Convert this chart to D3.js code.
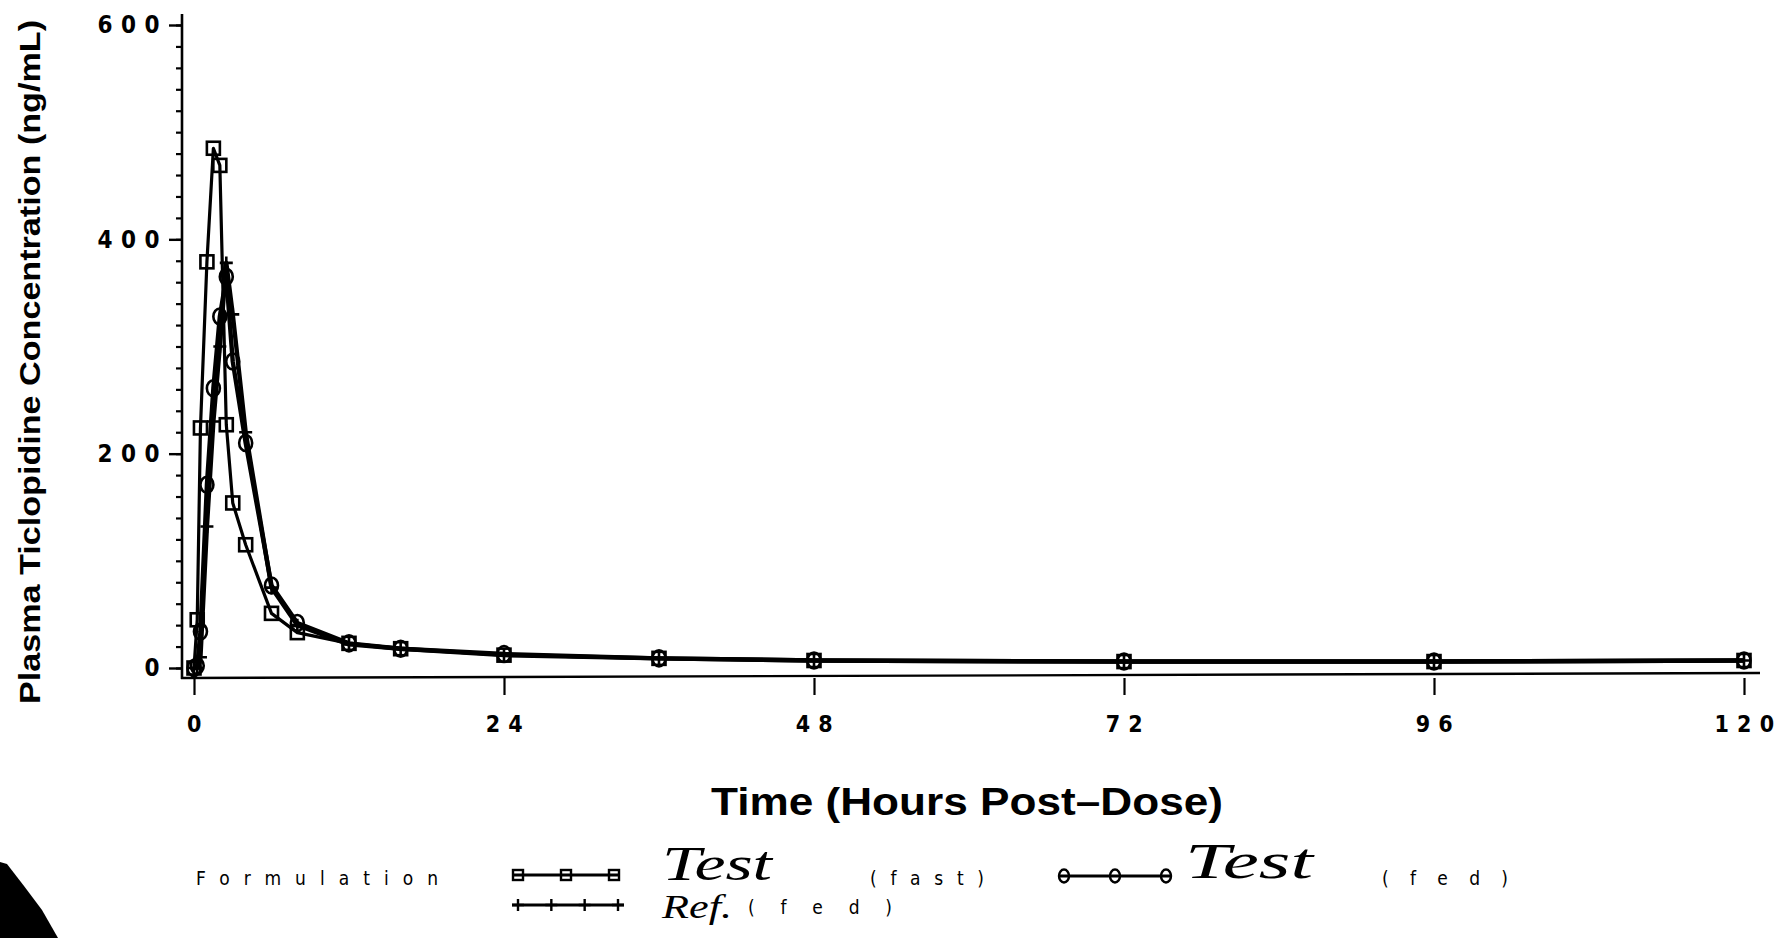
<!DOCTYPE html>
<html>
<head>
<meta charset="utf-8">
<script src="https://cdn.jsdelivr.net/npm/d3@7"></script>
<style>
  html, body { margin: 0; padding: 0; background: #fff; }
  svg { display: block; }
</style>
</head>
<body>
<svg id="chart" width="1784" height="938"></svg>
<script>
// ---------------- DATA ----------------
const times     = [0, 0.25, 0.5, 1, 1.5, 2, 2.5, 3, 4, 6, 8, 12, 16, 24, 36, 48, 72, 96, 120];
const testFast  = [0, 45, 224, 379, 485, 469, 227, 154, 115, 51, 33, 23, 18, 12, 9, 7, 6, 6, 7];
const testFed   = [0, 2, 34, 171, 261, 328, 365, 286, 210, 77, 42, 23, 18, 13, 9, 7, 6, 6, 7];
const refFed    = [0, 0, 10, 132, 230, 300, 378, 330, 220, 75, 40, 22, 18, 12, 9, 7, 6, 6, 7];
const xTicks    = [0, 24, 48, 72, 96, 120];
const yTicks    = [0, 200, 400, 600];
const yMinor    = d3.range(0, 601, 20);
const xTitle    = "Time (Hours Post\u2013Dose)";
const yTitle    = "Plasma Ticlopidine Concentration (ng/mL)";

// ---------------- LAYOUT ----------------
const svg = d3.select("#chart");
const x = d3.scaleLinear().domain([0, 120]).range([194, 1744]);
const y = d3.scaleLinear().domain([0, 600]).range([668, 25]);
const axisX = 182, axisY = 678;
const ink = "#000";
const tickFont = "'DejaVu Sans Condensed', 'DejaVu Sans', sans-serif";

// y axis line
svg.append("line").attr("x1", axisX).attr("x2", axisX).attr("y1", 14).attr("y2", axisY + 1)
  .attr("stroke", ink).attr("stroke-width", 2.6);
// x axis line (slightly tilted like the scanned original)
svg.append("line").attr("x1", axisX - 1).attr("x2", 1760).attr("y1", axisY).attr("y2", axisY - 5)
  .attr("stroke", ink).attr("stroke-width", 2.4);

// y minor ticks
const gY = svg.append("g").attr("transform", `translate(${axisX},0)`);
gY.call(d3.axisLeft(y).tickValues(yMinor).tickSize(6).tickFormat(""))
  .call(g => g.select(".domain").remove())
  .call(g => g.selectAll("line").attr("stroke", ink).attr("stroke-width", 2.2));
const gYM = svg.append("g").attr("transform", `translate(${axisX},0)`);
gYM.call(d3.axisLeft(y).tickValues(yTicks).tickSize(13).tickPadding(9)
    .tickFormat(d => String(d).split("").join(" ")))
  .call(g => g.select(".domain").remove())
  .call(g => g.selectAll("line").attr("stroke", ink).attr("stroke-width", 2.4))
  .call(g => g.selectAll("text").attr("fill", ink).attr("font-family", tickFont)
      .attr("font-size", 24).attr("font-weight", "bold").style("letter-spacing", "0.5px"));

// x ticks
const gX = svg.append("g").attr("transform", `translate(0,${axisY})`);
gX.call(d3.axisBottom(x).tickValues(xTicks).tickSize(17).tickPadding(21)
    .tickFormat(d => String(d).split("").join(" ")))
  .call(g => g.select(".domain").remove())
  .call(g => g.selectAll("line").attr("stroke", ink).attr("stroke-width", 2.2))
  .call(g => g.selectAll("text").attr("fill", ink).attr("font-family", tickFont)
      .attr("font-size", 23).attr("font-weight", "bold").style("letter-spacing", "0.5px"));

// axis titles
svg.append("text").attr("x", 967).attr("y", 815).attr("text-anchor", "middle")
  .attr("font-family", "'Liberation Sans', Arial, sans-serif").attr("font-weight", "bold")
  .attr("font-size", 39).attr("textLength", 512).attr("lengthAdjust", "spacingAndGlyphs")
  .text(xTitle);
svg.append("text").attr("transform", "translate(40,362) rotate(-90)").attr("text-anchor", "middle")
  .attr("font-family", "'Liberation Sans', Arial, sans-serif").attr("font-weight", "bold")
  .attr("font-size", 30).attr("textLength", 684).attr("lengthAdjust", "spacingAndGlyphs")
  .text(yTitle);

// ---------------- SERIES ----------------
const series = [
  { name: "Test (fast)", values: testFast, marker: "square", width: 3.2 },
  { name: "Test (fed)",  values: testFed,  marker: "circle", width: 4.4 },
  { name: "Ref. (fed)",  values: refFed,   marker: "plus",   width: 4.4 }
];
const line = d3.line().x(d => x(d[0])).y(d => y(d[1]));
const plot = svg.append("g");

function drawMarker(g, type, cx, cy, s, sw) {
  sw = sw || 2.6;
  if (type === "square") {
    g.append("rect").attr("x", cx - s / 2).attr("y", cy - s / 2).attr("width", s).attr("height", s)
      .attr("fill", "none").attr("stroke", ink).attr("stroke-width", sw);
  } else if (type === "circle") {
    g.append("ellipse").attr("cx", cx).attr("cy", cy).attr("rx", s / 2).attr("ry", s / 2 + 1.5)
      .attr("fill", "none").attr("stroke", ink).attr("stroke-width", sw);
  } else {
    g.append("path").attr("d", `M${cx - s / 2},${cy}H${cx + s / 2}M${cx},${cy - s / 2}V${cy + s / 2}`)
      .attr("fill", "none").attr("stroke", ink).attr("stroke-width", sw);
  }
}

series.forEach(s => {
  const pts = times.map((t, i) => [t, s.values[i]]);
  plot.append("path").datum(pts).attr("d", line).attr("fill", "none")
    .attr("stroke", ink).attr("stroke-width", s.width).attr("stroke-linejoin", "round");
});
series.forEach(s => {
  const g = plot.append("g");
  times.forEach((t, i) => drawMarker(g, s.marker, x(t), y(s.values[i]), 13));
});

// ---------------- LEGEND ----------------
const monoFont = "'DejaVu Sans Condensed', 'DejaVu Sans', sans-serif";
const handFont = "'Liberation Serif', 'DejaVu Serif', serif";
const lg = svg.append("g");
lg.append("text").attr("x", 196).attr("y", 885).attr("font-family", monoFont).attr("font-size", 19)
  .attr("textLength", 242).attr("lengthAdjust", "spacing").text("Formulation");

function legendSample(x0, x1, yy, type, n, s) {
  lg.append("line").attr("x1", x0).attr("x2", x1).attr("y1", yy).attr("y2", yy)
    .attr("stroke", ink).attr("stroke-width", 3.2);
  const xs = d3.range(n).map(i => x0 + 6 + i * (x1 - x0 - 12) / (n - 1));
  xs.forEach(cx => drawMarker(lg, type, cx, yy, s, 2.4));
}
legendSample(512, 620, 875, "square", 3, 10);
legendSample(1058, 1172, 876, "circle", 3, 10);
legendSample(512, 624, 905, "plus", 4, 12);

function hand(txt, x0, yy, w, size) {
  lg.append("text").attr("x", x0).attr("y", yy).attr("font-family", handFont).attr("font-style", "italic")
    .attr("font-size", size).attr("textLength", w)
    .attr("lengthAdjust", "spacingAndGlyphs").text(txt);
}
function mono(txt, x0, yy, w) {
  lg.append("text").attr("x", x0).attr("y", yy).attr("font-family", monoFont).attr("font-size", 19)
    .attr("textLength", w).attr("lengthAdjust", "spacing").text(txt);
}
hand("Test", 662, 880, 110, 48);
mono("(fast)", 870, 885, 114);
hand("Test", 1185, 878, 128, 50);
mono("(fed)", 1382, 885, 126);
hand("Ref.", 662, 918, 70, 34);
mono("(fed)", 748, 914, 144);

// scan shadow in the lower-left corner
svg.append("path").attr("d", "M0,862 L7,864 L24,886 L42,910 L58,938 L0,938 Z").attr("fill", ink);
</script>
</body>
</html>
